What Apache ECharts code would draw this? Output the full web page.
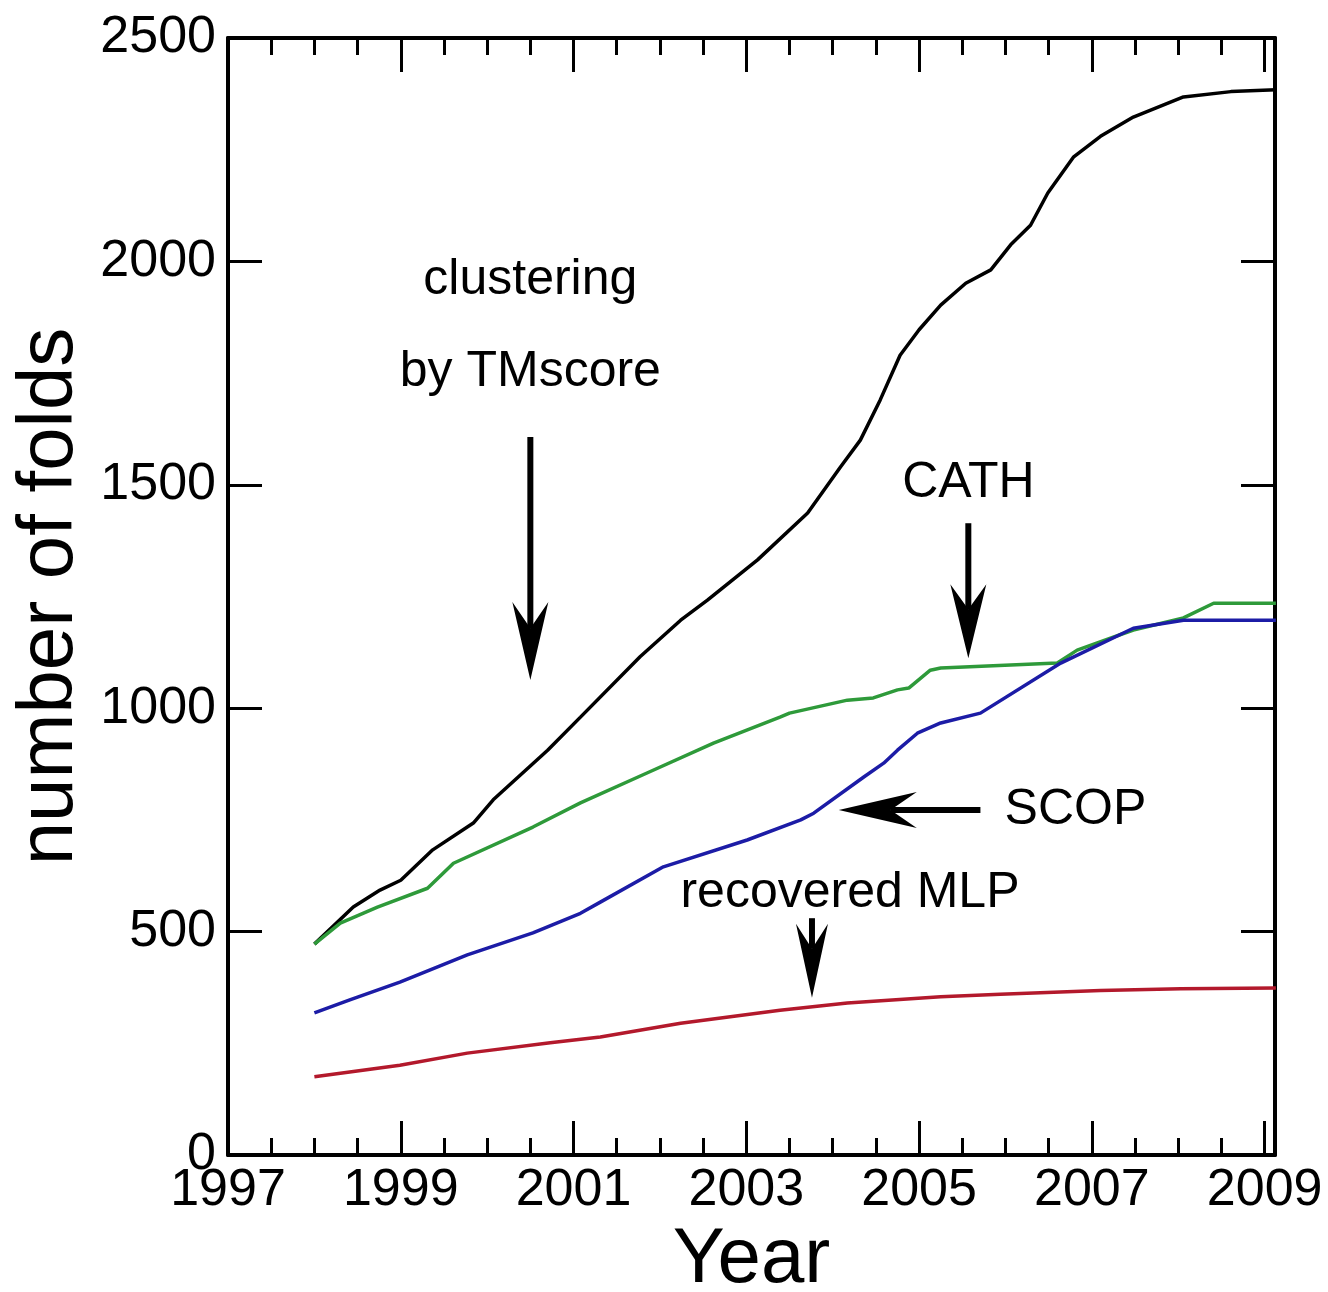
<!DOCTYPE html>
<html><head><meta charset="utf-8">
<script src="https://cdn.jsdelivr.net/npm/echarts@6/dist/echarts.min.js"></script>
<style>html,body{margin:0;padding:0;background:#fff}#c{width:1328px;height:1292px}</style>
</head><body><div id="c"></div>
<script>
const xTickLabels = [1997, 1999, 2001, 2003, 2005, 2007, 2009];
const yTickLabels = [0, 500, 1000, 1500, 2000, 2500];

const tmYears = [1998.0, 1998.45, 1998.76, 1999.0, 1999.37, 1999.84, 2000.07, 2000.7, 2001.08, 2001.77, 2002.24, 2002.55, 2003.13, 2003.71, 2004.09, 2004.32, 2004.55, 2004.78, 2005.0, 2005.25, 2005.54, 2005.83, 2006.06, 2006.29, 2006.49, 2006.79, 2007.1, 2007.48, 2008.06, 2008.61, 2009.13];
const tmValues = [472, 555, 593, 615, 683, 743, 795, 906, 980, 1115, 1197, 1242, 1332, 1437, 1540, 1600, 1690, 1790, 1847, 1902, 1951, 1981, 2037, 2081, 2153, 2234, 2280, 2323, 2368, 2380, 2384];

const cathYears = [1998.0, 1998.3, 1998.73, 1999.31, 1999.61, 2000.53, 2001.08, 2001.85, 2002.62, 2003.39, 2003.5, 2004.17, 2004.47, 2004.75, 2004.88, 2005.13, 2005.25, 2006.6, 2006.83, 2007.48, 2008.06, 2008.41, 2009.13];
const cathValues = [472, 519, 555, 597, 653, 734, 788, 855, 922, 980, 989, 1018, 1023, 1041, 1045, 1085, 1090, 1101, 1130, 1175, 1202, 1235, 1235];

const scopYears = [1998.0, 1998.41, 1998.99, 1999.77, 2000.53, 2001.08, 2001.31, 2002.04, 2003.01, 2003.63, 2003.78, 2004.36, 2004.59, 2004.75, 2004.98, 2005.25, 2005.71, 2006.64, 2007.48, 2008.06, 2009.13];
const scopValues = [318, 347, 387, 448, 497, 541, 566, 645, 705, 750, 765, 846, 877, 906, 944, 967, 989, 1101, 1179, 1197, 1197];

const mlpYears = [1998.0, 1998.99, 1999.77, 2000.73, 2001.31, 2002.24, 2003.39, 2004.17, 2005.25, 2005.94, 2007.1, 2008.03, 2009.13];
const mlpValues = [175, 201, 228, 251, 264, 295, 324, 340, 354, 360, 368, 372, 374];

const minorTickYears = [1997.5, 1998, 1998.5, 1999.5, 2000, 2000.5, 2001.5, 2002, 2002.5, 2003.5, 2004, 2004.5, 2005.5, 2006, 2006.5, 2007.5, 2008, 2008.5];

const pairs = (xs, ys) => xs.map((x, i) => [x, ys[i]]);
const FONT = '"Liberation Sans", Arial, sans-serif';

const chart = echarts.init(document.getElementById('c'), null, {renderer: 'canvas'});

const axisLine = {show: true, lineStyle: {color: '#000', width: 4}};
const baseX = {type: 'value', min: 1997, max: 2009.12, splitLine: {show: false}};
const option = {
  animation: false,
  backgroundColor: '#fff',
  grid: {left: 228, top: 38, right: 53, bottom: 137, containLabel: false, outerBoundsMode: 'none'},
  xAxis: [
    Object.assign({}, baseX, {
      position: 'bottom', axisLine,
      axisTick: {inside: true, length: 34, lineStyle: {width: 3, color: '#000'}, customValues: xTickLabels},
      axisLabel: {customValues: xTickLabels, fontSize: 52, fontFamily: FONT, color: '#000', margin: 10,
        formatter: v => String(v)},
      name: 'Year', nameLocation: 'middle', nameGap: 64,
      nameTextStyle: {fontSize: 78, fontFamily: FONT, color: '#000'}
    }),
    Object.assign({}, baseX, {
      position: 'bottom', axisLine: {show: false},
      axisTick: {inside: true, length: 17, lineStyle: {width: 3, color: '#000'}, customValues: minorTickYears},
      axisLabel: {show: false}
    }),
    Object.assign({}, baseX, {
      position: 'top', axisLine,
      axisTick: {inside: true, length: 34, lineStyle: {width: 3, color: '#000'}, customValues: xTickLabels},
      axisLabel: {show: false}
    }),
    Object.assign({}, baseX, {
      position: 'top', axisLine: {show: false},
      axisTick: {inside: true, length: 17, lineStyle: {width: 3, color: '#000'}, customValues: minorTickYears},
      axisLabel: {show: false}
    })
  ],
  yAxis: [
    {
      type: 'value', min: 0, max: 2500, interval: 500, position: 'left',
      axisLine, splitLine: {show: false},
      axisTick: {inside: true, length: 34, lineStyle: {width: 3, color: '#000'}},
      axisLabel: {fontSize: 52, fontFamily: FONT, color: '#000', margin: 12,
        formatter: v => yTickLabels.includes(v) ? String(v) : ''},
      name: 'number of folds', nameLocation: 'middle', nameGap: 138, nameRotate: 90,
      nameTextStyle: {fontSize: 78, fontFamily: FONT, color: '#000'}
    },
    {
      type: 'value', min: 0, max: 2500, interval: 500, position: 'right',
      axisLine, splitLine: {show: false},
      axisTick: {inside: true, length: 34, lineStyle: {width: 3, color: '#000'}},
      axisLabel: {show: false}
    }
  ],
  series: [
    {name: 'clustering by TMscore', type: 'line', data: pairs(tmYears, tmValues), showSymbol: false,
      lineStyle: {color: '#000', width: 3.5}},
    {name: 'CATH', type: 'line', data: pairs(cathYears, cathValues), showSymbol: false,
      lineStyle: {color: '#2e9a3a', width: 3.5}},
    {name: 'SCOP', type: 'line', data: pairs(scopYears, scopValues), showSymbol: false,
      lineStyle: {color: '#1c1ca6', width: 3.5}},
    {name: 'recovered MLP', type: 'line', data: pairs(mlpYears, mlpValues), showSymbol: false,
      lineStyle: {color: '#b3192c', width: 3.5}}
  ]
};
chart.setOption(option);

// Annotations positioned in data coordinates
const P = (x, y) => chart.convertToPixel({xAxisIndex: 0, yAxisIndex: 0}, [x, y]);
function text(x, y, s) {
  const p = P(x, y);
  return {type: 'text', x: p[0], y: p[1], z: 10,
    style: {text: s, font: '50px ' + FONT, fill: '#000', align: 'center', verticalAlign: 'middle'}};
}
function arrow(from, to, headLen, headHalf) {
  const a = P(from[0], from[1]), b = P(to[0], to[1]);
  const dx = b[0] - a[0], dy = b[1] - a[1];
  const L = Math.hypot(dx, dy), ux = dx / L, uy = dy / L;
  const nx = -uy, ny = ux;
  const base = [b[0] - ux * headLen, b[1] - uy * headLen];
  const notch = [b[0] - ux * headLen * 0.72, b[1] - uy * headLen * 0.72];
  const barbBack = [base[0] - ux * 6, base[1] - uy * 6];
  return [
    {type: 'line', z: 10, shape: {x1: a[0], y1: a[1], x2: notch[0], y2: notch[1]},
      style: {stroke: '#000', lineWidth: 6}},
    {type: 'polygon', z: 10, shape: {points: [
      b,
      [barbBack[0] + nx * headHalf, barbBack[1] + ny * headHalf],
      notch,
      [barbBack[0] - nx * headHalf, barbBack[1] - ny * headHalf]
    ]}, style: {fill: '#000'}}
  ];
}
const graphics = [
  text(2000.5, 1958, 'clustering'),
  text(2000.5, 1752, 'by TMscore'),
  text(2005.57, 1504, 'CATH'),
  text(2006.81, 772, 'SCOP'),
  text(2004.2, 586, 'recovered MLP'),
  ...arrow([2000.5, 1607], [2000.5, 1063], 72, 18),
  ...arrow([2005.57, 1414], [2005.57, 1112], 68, 18),
  ...arrow([2005.71, 772], [2004.07, 772], 72, 18),
  ...arrow([2003.76, 530], [2003.76, 352], 68, 16)
];
chart.setOption({graphic: graphics});
</script>
</body></html>
